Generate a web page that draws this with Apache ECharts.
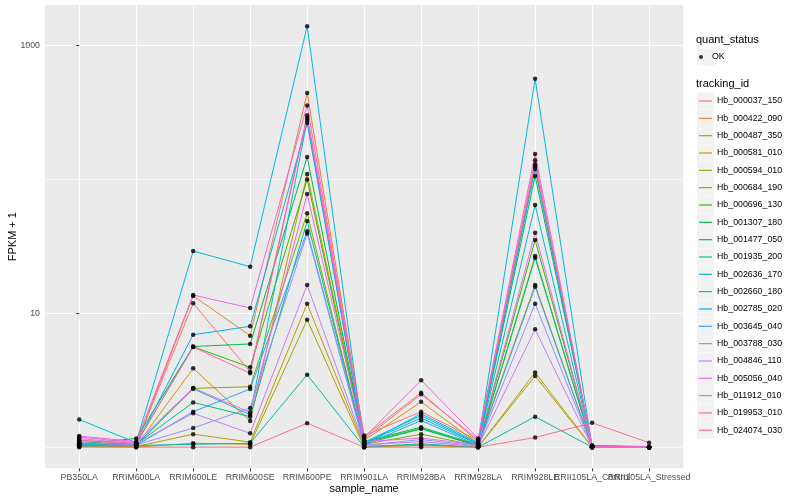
<!DOCTYPE html>
<html>
<head>
<meta charset="utf-8">
<script src="https://cdn.jsdelivr.net/npm/echarts@6/dist/echarts.min.js"></script>
<style>html,body{margin:0;padding:0;background:#fff;}#c{width:800px;height:500px;}</style>
</head>
<body>
<div id="c"></div>
<script>
const categories = ['PB350LA','RRIM600LA','RRIM600LE','RRIM600SE','RRIM600PE','RRIM901LA','RRIM928BA','RRIM928LA','RRIM928LE','RRII105LA_Control','RRII105LA_Stressed'];
const trackingIds = ['Hb_000037_150','Hb_000422_090','Hb_000487_350','Hb_000581_010','Hb_000594_010','Hb_000684_190','Hb_000696_130','Hb_001307_180','Hb_001477_050','Hb_001935_200','Hb_002636_170','Hb_002660_180','Hb_002785_020','Hb_003645_040','Hb_003788_030','Hb_004846_110','Hb_005056_040','Hb_011912_010','Hb_019953_010','Hb_024074_030'];
const yMajorTicks = [10, 1000];
const yMinorTicks = [1, 100];

const Hb_000037_150 = [1.13, 1.05, 11.9, 3.66, 302, 1.22, 1.84, 1.12, 130, 1.02, 1.0];
const Hb_000422_090 = [1.10, 1.04, 13.5, 6.80, 443, 1.20, 2.55, 1.10, 125, 1.01, 1.0];
const Hb_000487_350 = [1.03, 1.02, 3.88, 1.57, 110, 1.12, 2.18, 1.06, 16.3, 1.0, 1.0];
const Hb_000581_010 = [1.02, 1.01, 1.25, 1.09, 11.8, 1.02, 1.04, 1.0, 3.62, 1.0, 1.0];
const Hb_000594_010 = [1.01, 1.0, 1.07, 1.05, 8.96, 1.0, 1.03, 1.0, 3.40, 1.0, 1.0];
const Hb_000684_190 = [1.03, 1.03, 2.75, 2.83, 56, 1.05, 1.25, 1.02, 26.8, 1.01, 1.0];
const Hb_000696_130 = [1.05, 1.06, 5.63, 3.95, 100, 1.08, 1.38, 1.03, 35.3, 1.02, 1.0];
const Hb_001307_180 = [1.06, 1.16, 5.65, 5.90, 147, 1.10, 1.41, 1.04, 106, 1.03, 1.01];
const Hb_001477_050 = [1.05, 1.05, 2.16, 1.69, 49, 1.06, 1.37, 1.02, 26, 1.01, 1.0];
const Hb_001935_200 = [1.02, 1.03, 1.05, 1.07, 3.48, 1.0, 1.06, 1.0, 1.69, 1.0, 1.0];
const Hb_002636_170 = [1.04, 1.04, 2.73, 1.75, 278, 1.07, 1.65, 1.05, 64.5, 1.01, 1.0];
const Hb_002660_180 = [1.61, 1.08, 29.2, 22.3, 1398, 1.05, 1.78, 1.08, 566, 1.0, 1.0];
const Hb_002785_020 = [1.07, 1.05, 6.92, 8.0, 264, 1.09, 1.72, 1.06, 120, 1.02, 1.0];
const Hb_003645_040 = [1.04, 1.03, 1.84, 2.72, 41, 1.04, 1.58, 1.03, 15.8, 1.0, 1.0];
const Hb_003788_030 = [1.08, 1.04, 1.39, 1.96, 39.5, 1.03, 1.14, 1.02, 11.8, 1.0, 1.0];
const Hb_004846_110 = [1.16, 1.06, 1.79, 1.27, 16.3, 1.04, 1.10, 1.01, 7.6, 1.0, 1.0];
const Hb_005056_040 = [1.19, 1.08, 2.77, 1.82, 78, 1.10, 1.17, 1.04, 40, 1.01, 1.0];
const Hb_011912_010 = [1.21, 1.10, 13.7, 10.96, 358, 1.18, 3.16, 1.16, 155, 1.02, 1.0];
const Hb_019953_010 = [1.12, 1.07, 5.60, 3.57, 290, 1.15, 2.48, 1.14, 139, 1.02, 1.0];
const Hb_024074_030 = [1.0, 1.0, 1.0, 1.0, 1.51, 1.0, 1.0, 1.0, 1.18, 1.52, 1.08];

const seriesValues = [Hb_000037_150, Hb_000422_090, Hb_000487_350, Hb_000581_010, Hb_000594_010, Hb_000684_190, Hb_000696_130, Hb_001307_180, Hb_001477_050, Hb_001935_200, Hb_002636_170, Hb_002660_180, Hb_002785_020, Hb_003645_040, Hb_003788_030, Hb_004846_110, Hb_005056_040, Hb_011912_010, Hb_019953_010, Hb_024074_030];

const colors = ['#F8766D','#EA8331','#D89000','#C09B00','#A3A500','#7CAE00','#39B600','#00BB4E','#00BF7D','#00C1A3','#00BFC4','#00BAE0','#00B0F6','#35A2FF','#9590FF','#C77CFF','#E76BF3','#FA62DB','#FF62BC','#FF6C91'];

const catIdx = categories.map((c, i) => i);
const evenIdx = catIdx.filter(i => i % 2 === 0);
const oddIdx = catIdx.filter(i => i % 2 === 1);
const FONT = 'Liberation Sans, Arial, sans-serif';

const lineSeries = trackingIds.map((id, k) => ({
  name: id,
  type: 'line',
  xAxisIndex: 0, yAxisIndex: 0,
  data: seriesValues[k].map((v, i) => [i, v]),
  showSymbol: false,
  symbol: 'none',
  lineStyle: { width: 1, color: colors[k] },
  itemStyle: { color: colors[k] },
  z: 2,
  silent: true
}));

const pointData = [];
seriesValues.forEach(arr => arr.forEach((v, i) => pointData.push([i, v])));

const pointSeries = {
  name: 'OK',
  type: 'scatter',
  xAxisIndex: 0, yAxisIndex: 0,
  data: pointData,
  symbol: 'circle',
  symbolSize: 4.5,
  itemStyle: { color: '#000' },
  z: 5,
  silent: true
};

const graphics = [];
graphics.push({ type: 'text', left: 696, top: 34, style: { text: 'quant_status', font: '11px ' + FONT, fill: '#000' } });
graphics.push({ type: 'rect', shape: { x: 697, y: 48.5, width: 17, height: 17 }, style: { fill: '#F2F2F2' }, z: -1 });
graphics.push({ type: 'text', left: 696, top: 78.5, style: { text: 'tracking_id', font: '11px ' + FONT, fill: '#000' } });
trackingIds.forEach((id, k) => {
  graphics.push({ type: 'rect', shape: { x: 697, y: 92.5 + k * 17.33, width: 17, height: 17 }, style: { fill: '#F2F2F2' }, z: -1 });
});

const labelStyle = { fontFamily: FONT, fontSize: 8.8, color: '#4D4D4D', margin: 5, hideOverlap: false, showMinLabel: true, showMaxLabel: true, formatter: v => categories[Math.round(v)] };

const option = {
  backgroundColor: '#ffffff',
  animation: false,
  grid: {
    left: 45, right: 116.7, top: 5, bottom: 31.7,
    show: true, backgroundColor: '#EBEBEB', borderWidth: 0,
    containLabel: false, outerBoundsMode: 'none'
  },
  xAxis: [{
    type: 'value',
    min: -0.6, max: 10.6,
    position: 'bottom',
    name: 'sample_name', nameLocation: 'middle', nameGap: 15, nameMoveOverlap: false,
    nameTextStyle: { fontFamily: FONT, fontSize: 11, color: '#000' },
    axisLine: { show: false },
    axisTick: { show: true, length: 3, lineStyle: { color: '#333333', width: 1 }, customValues: catIdx },
    axisLabel: Object.assign({ customValues: evenIdx }, labelStyle),
    splitLine: { show: true, lineStyle: { color: '#FFFFFF', width: 1 } },
    minorSplitLine: { show: false }
  }, {
    type: 'value',
    min: -0.6, max: 10.6,
    position: 'bottom',
    axisLine: { show: false },
    axisTick: { show: false, customValues: oddIdx },
    axisLabel: Object.assign({ customValues: oddIdx }, labelStyle),
    splitLine: { show: false }
  }],
  yAxis: [{
    type: 'log', logBase: 10,
    min: 0.695, max: 2014,
    name: 'FPKM + 1', nameLocation: 'middle', nameGap: 27, nameRotate: 90, nameMoveOverlap: false,
    nameTextStyle: { fontFamily: FONT, fontSize: 11, color: '#000' },
    axisLine: { show: false },
    axisTick: { show: true, length: 3, lineStyle: { color: '#333333', width: 1 }, customValues: yMajorTicks },
    axisLabel: { customValues: yMajorTicks, formatter: v => String(Math.round(v)), fontFamily: FONT, fontSize: 8.8, color: '#4D4D4D', margin: 5 },
    splitLine: { show: true, lineStyle: { color: '#FFFFFF', width: 1 } }
  }, {
    type: 'log', logBase: 10,
    min: 0.695, max: 2014,
    position: 'left',
    axisLine: { show: false },
    axisTick: { show: false, customValues: yMinorTicks },
    axisLabel: { show: false, customValues: yMinorTicks },
    splitLine: { show: true, lineStyle: { color: '#FFFFFF', width: 0.6 } }
  }],
  legend: [{
    data: ['OK'],
    orient: 'vertical',
    left: 699, top: 51,
    padding: 0,
    icon: 'circle',
    itemWidth: 12, itemHeight: 4,
    selectedMode: false,
    textStyle: { fontFamily: FONT, fontSize: 8.8, color: '#000', lineHeight: 12 }
  }, {
    data: trackingIds,
    orient: 'vertical',
    left: 699, top: 95,
    padding: 0,
    icon: 'rect',
    itemWidth: 13, itemHeight: 1.2,
    itemGap: 5.33,
    selectedMode: false,
    textStyle: { fontFamily: FONT, fontSize: 8.8, color: '#000', lineHeight: 12 }
  }],
  graphic: graphics,
  series: lineSeries.concat([pointSeries])
};

const chart = echarts.init(document.getElementById('c'), null, { renderer: 'canvas' });
chart.setOption(option);
</script>
</body>
</html>
